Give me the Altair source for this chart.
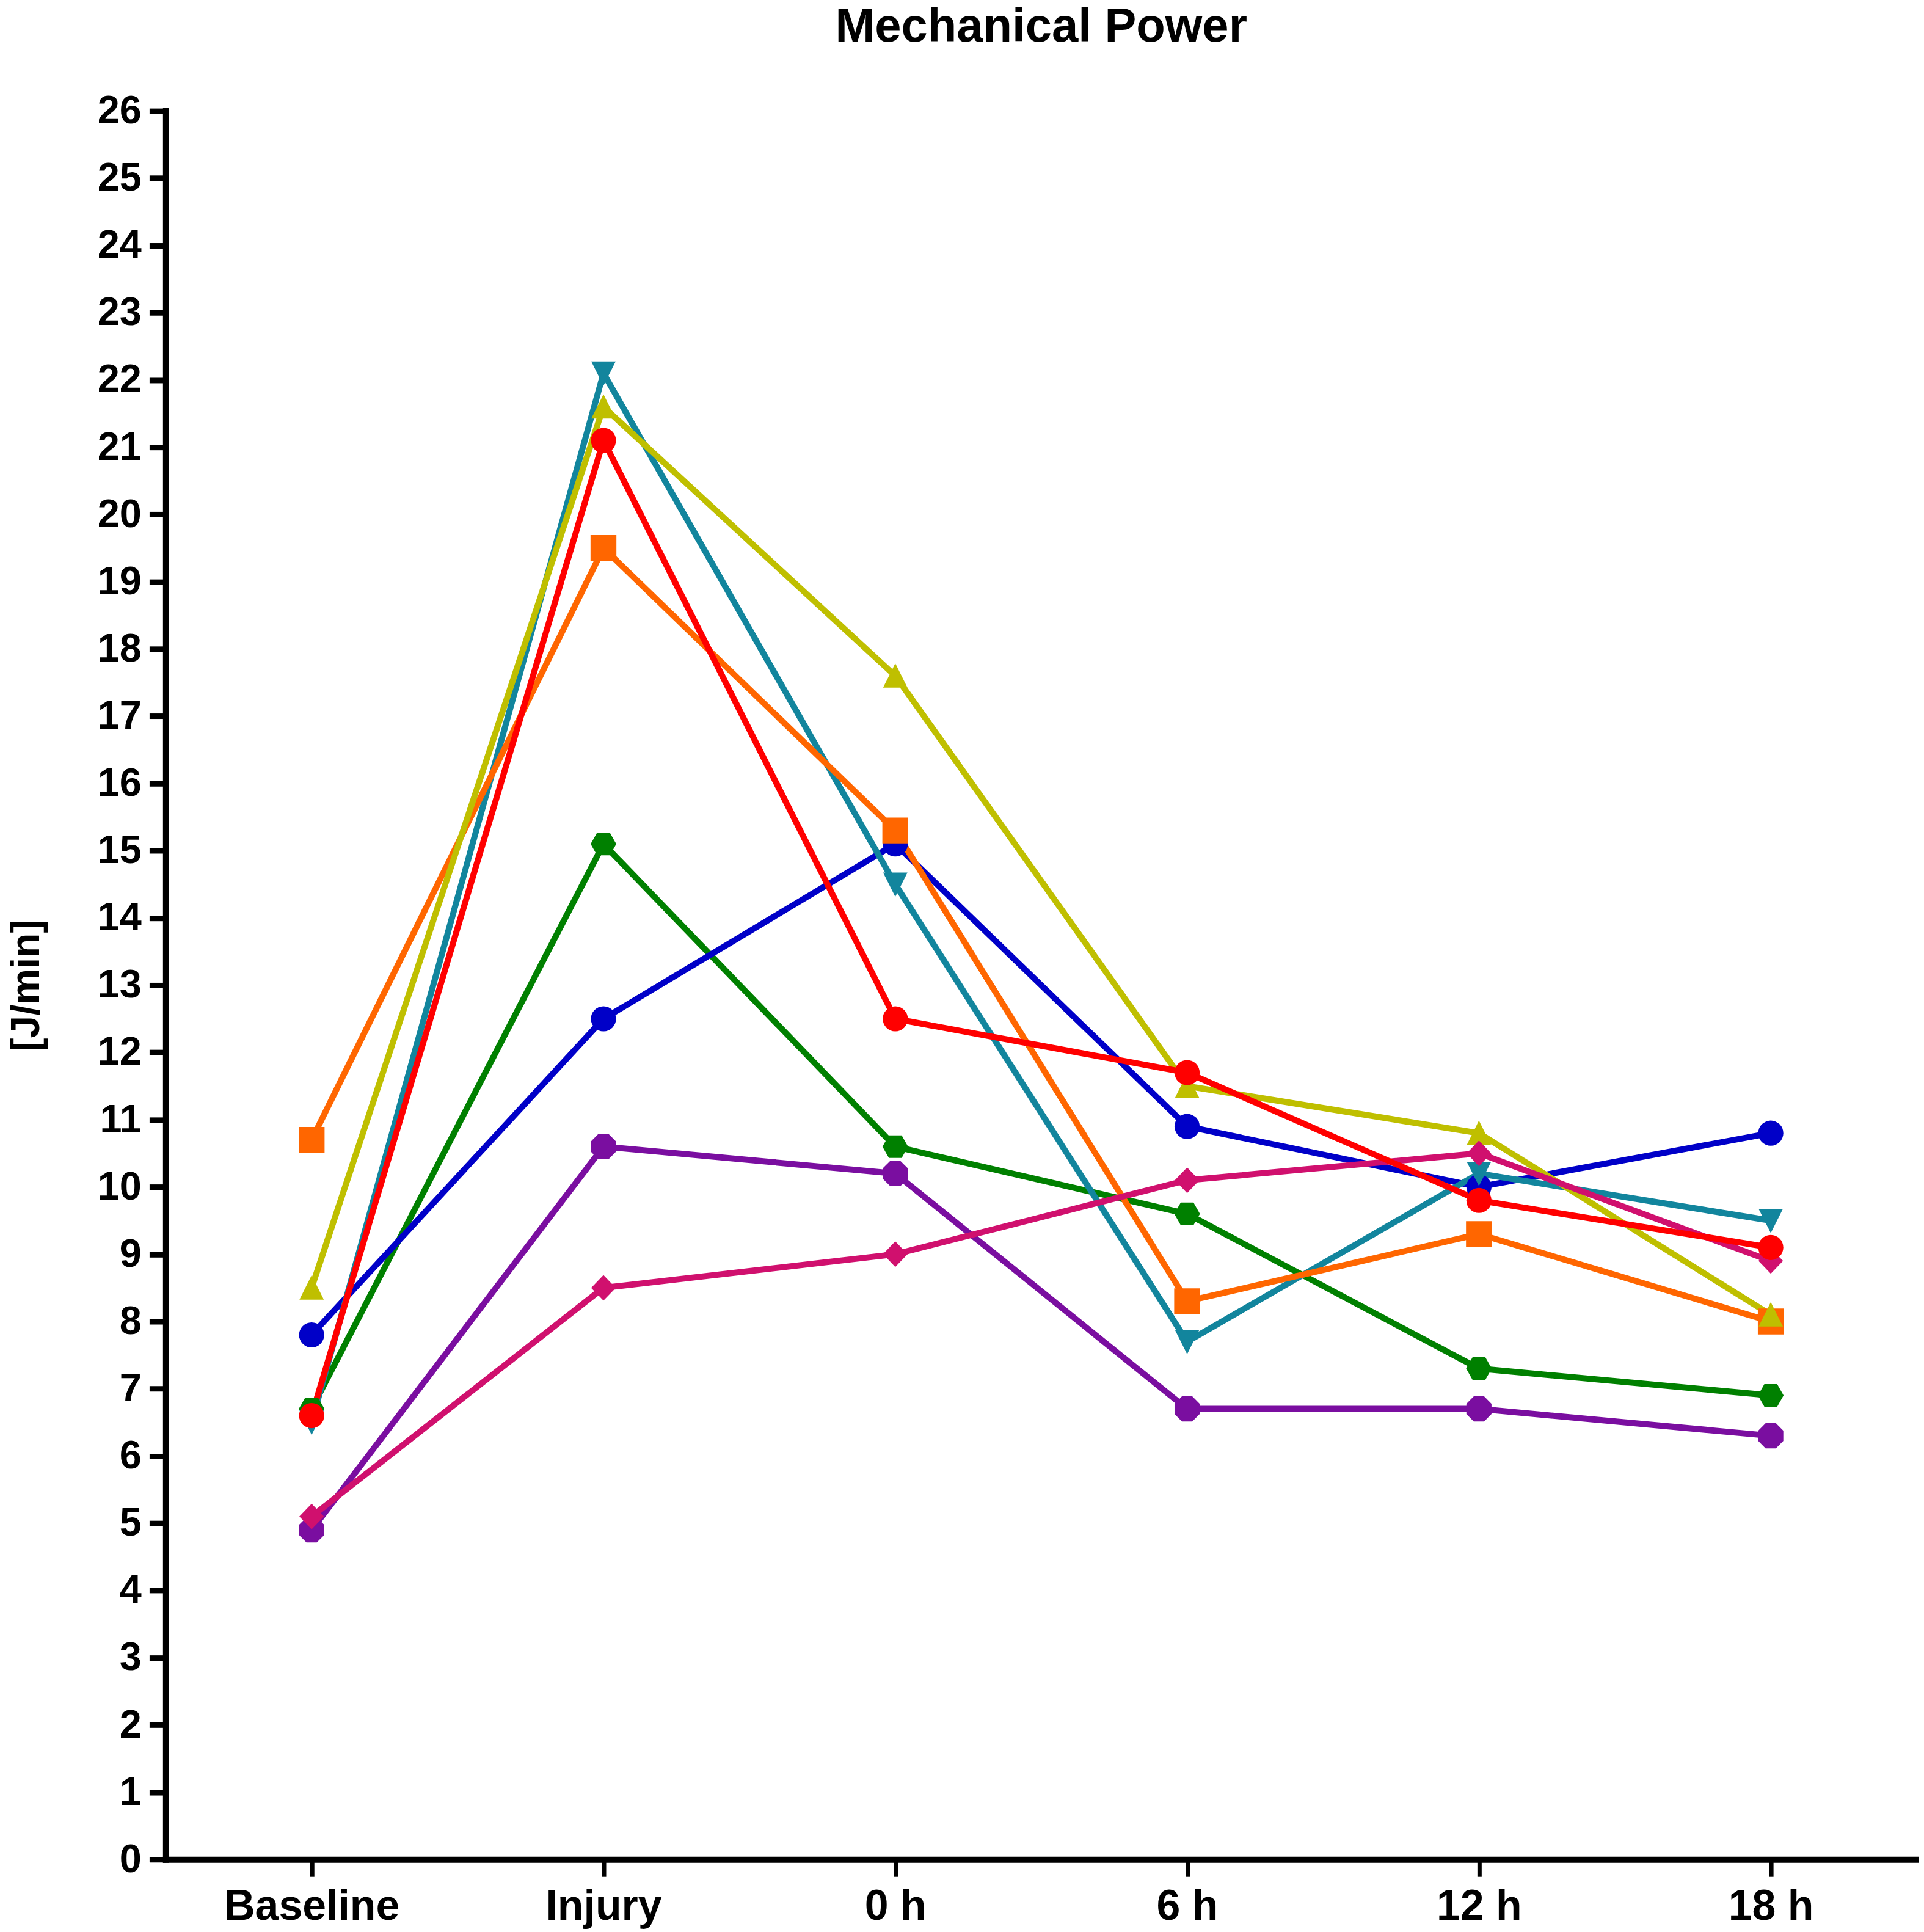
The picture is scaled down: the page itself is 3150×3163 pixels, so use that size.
import altair as alt
import pandas as pd

categories = ["Baseline", "Injury", "0 h", "6 h", "12 h", "18 h"]

# series listed in drawing order (bottom to top)
series_names = ["Green", "Purple", "Blue", "Teal", "Orange", "Yellow", "Pink", "Red"]
green  = [6.7, 15.1, 10.6, 9.6, 7.3, 6.9]
purple = [4.9, 10.6, 10.2, 6.7, 6.7, 6.3]
blue   = [7.8, 12.5, 15.1, 10.9, 10.0, 10.8]
teal   = [6.5, 22.1, 14.5, 7.7, 10.2, 9.5]
orange = [10.7, 19.5, 15.3, 8.3, 9.3, 8.0]
yellow = [8.5, 21.6, 17.6, 11.5, 10.8, 8.1]
pink   = [5.1, 8.5, 9.0, 10.1, 10.5, 8.9]
red    = [6.6, 21.1, 12.5, 11.7, 9.8, 9.1]
values = [green, purple, blue, teal, orange, yellow, pink, red]

colors = ["#008000", "#7A0EA0", "#0000C8", "#12859D", "#FF6600", "#BFBF00", "#D0106E", "#FF0000"]

hexagon = "M-1.02,0L-0.51,-0.9L0.51,-0.9L1.02,0L0.51,0.9L-0.51,0.9Z"
octagon = "M-0.41,-1L0.41,-1L1,-0.41L1,0.41L0.41,1L-0.41,1L-1,0.41L-1,-0.41Z"
square = "M-1.03,-1.03L1.03,-1.03L1.03,1.03L-1.03,1.03Z"
tri_up = "M0,-1.0L0.97,0.94L-0.97,0.94Z"
tri_down = "M0,1.0L0.97,-0.94L-0.97,-0.94Z"
diamond = "M-0.98,0L0,-1.02L0.98,0L0,1.02Z"
shapes = [hexagon, octagon, "circle", tri_down, square, tri_up, diamond, "circle"]

rows = []
for si, (name, vals) in enumerate(zip(series_names, values)):
    for ci, (cat, v) in enumerate(zip(categories, vals)):
        rows.append({"series": name, "order": si, "time": cat, "value": v})
df = pd.DataFrame(rows)

W, H = 2874, 2870
FONT = "Liberation Sans"

x_enc = alt.X(
    "time:N",
    sort=categories,
    scale=alt.Scale(type="point", padding=0.5),
    axis=alt.Axis(
        title=None, labelAngle=0, labelFontSize=70, labelPadding=15, labelLimit=0,
        tickSize=28, tickWidth=7, domainWidth=10, domainCap="square",
    ),
)
y_enc = alt.Y(
    "value:Q",
    scale=alt.Scale(domain=[0, 26], nice=False, zero=True),
    axis=alt.Axis(
        title="[J/min]", values=list(range(0, 27)), labelFontSize=65,
        labelPadding=13, tickSize=27, tickWidth=9, domainWidth=10,
        domainCap="square", titleFontSize=66, titleX=-228, titleY=H / 2,
        titleBaseline="middle", titleAngle=270, titleAlign="center",
    ),
)
color_enc = alt.Color("series:N", scale=alt.Scale(domain=series_names, range=colors), legend=None)
shape_enc = alt.Shape("series:N", scale=alt.Scale(domain=series_names, range=shapes), legend=None)

lines = alt.Chart(df).mark_line(strokeWidth=10).encode(
    x=x_enc, y=y_enc, color=color_enc, detail="series:N", order="order:Q"
)
points = alt.Chart(df).mark_point(filled=True, size=1700, opacity=1, strokeWidth=0).encode(
    x=x_enc, y=y_enc, color=color_enc, shape=shape_enc, order="order:Q"
)

chart = (
    alt.layer(lines, points)
    .properties(
        width=W, height=H,
        title=alt.TitleParams("Mechanical Power", fontSize=78, font=FONT, fontWeight="bold",
                              color="black", anchor="middle", frame="group", offset=66),
        autosize=alt.AutoSizeParams(type="none"),
        padding={"left": 264, "top": 170, "right": 4, "bottom": 115},
    )
    .configure_view(stroke=None)
    .configure_axis(
        grid=False, labelFont=FONT, labelFontWeight="bold", labelColor="black",
        titleFont=FONT, titleFontWeight="bold", titleColor="black",
        domainColor="black", tickColor="black",
    )
)

chart.save("out.html", embed_options={"renderer": "svg", "actions": False})
